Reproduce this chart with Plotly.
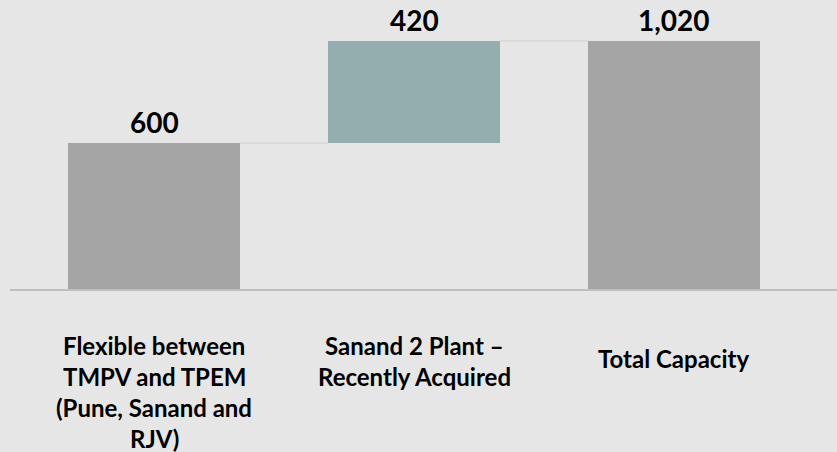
import plotly.graph_objects as go

# ---- data ----
categories = [
    "Flexible between<br>TMPV and TPEM<br>(Pune, Sanand and<br>RJV)",
    "Sanand 2 Plant –<br>Recently Acquired",
    "Total Capacity",
]
values = [600, 420, 1020]
measures = ["absolute", "relative", "total"]
value_labels = ["600", "420", "1,020"]

# ---- styles ----
BG = "#E7E6E6"
GRAY = "#A5A5A5"
TEAL = "#94ADAE"
FONT = "Lato"
BAR_W = 0.66

# compute waterfall bases / tops from data
bases, tops = [], []
running = 0
for v, m in zip(values, measures):
    if m == "relative":
        bases.append(running)
        running += v
        tops.append(running)
    else:
        bases.append(0)
        running = v
        tops.append(v)
heights = [t - b for t, b in zip(tops, bases)]
colors = [TEAL if m == "relative" else GRAY for m in measures]
xs = list(range(len(categories)))

fig = go.Figure()
fig.add_trace(go.Bar(
    x=xs, y=heights, base=bases, width=BAR_W,
    marker=dict(color=colors, line=dict(width=0)),
    hoverinfo="skip", showlegend=False,
))

# connectors
for i in range(len(xs) - 1):
    fig.add_trace(go.Scatter(
        x=[xs[i] + BAR_W / 2, xs[i + 1] - BAR_W / 2],
        y=[tops[i], tops[i]],
        mode="lines", line=dict(color="#D4D4D4", width=1.2),
        hoverinfo="skip", showlegend=False,
    ))

annotations = []
# value labels
for x, t, lab in zip(xs, tops, value_labels):
    annotations.append(dict(
        x=x, y=t, text=f"<b>{lab}</b>", showarrow=False,
        xanchor="center", yanchor="bottom", yshift=2,
        font=dict(family=FONT, size=28, color="#000000"),
    ))

# category labels (line by line)
first_shift = [-56, -56, -69]
LINE = 31
for x, cat, s0 in zip(xs, categories, first_shift):
    for j, line in enumerate(cat.split("<br>")):
        annotations.append(dict(
            x=x, y=0, text=f"<b>{line}</b>", showarrow=False,
            xanchor="center", yanchor="middle", yshift=s0 - j * LINE,
            font=dict(family=FONT, size=24, color="#000000"),
        ))

fig.update_layout(
    width=837, height=452,
    margin=dict(l=10, r=0, t=0, b=163),
    paper_bgcolor=BG, plot_bgcolor=BG,
    xaxis=dict(range=[-0.554, 2.627], showticklabels=False, showgrid=False,
               zeroline=False, showline=True, linecolor="#BFBFBF", linewidth=1.5,
               ticks=""),
    yaxis=dict(range=[0, 1188], visible=False, showgrid=False, zeroline=False),
    annotations=annotations,
    bargap=0,
)

fig.write_html(
    "out.html",
    config={"displayModeBar": False},
    post_script="document.body.style.margin='0';document.body.style.background='#E7E6E6';",
)
